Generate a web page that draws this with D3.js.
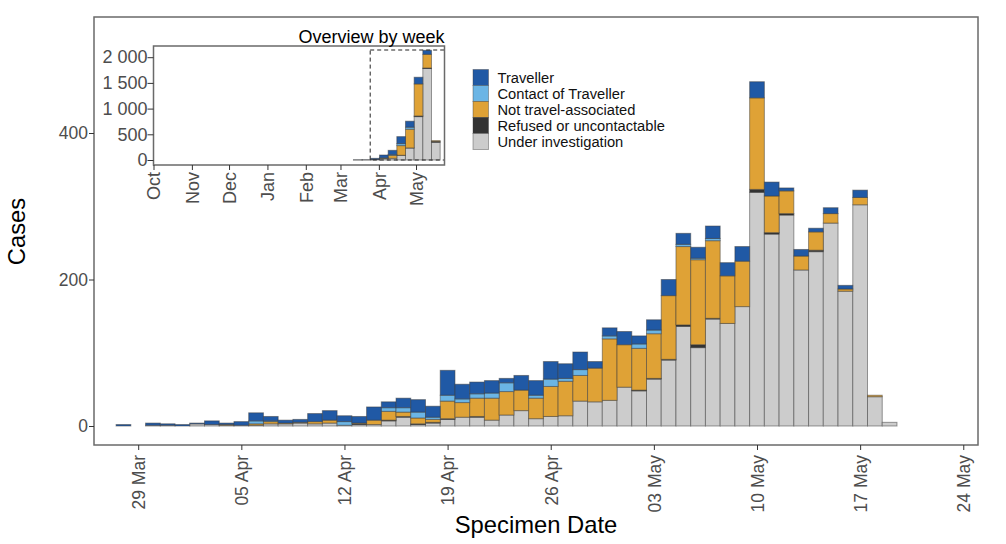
<!DOCTYPE html>
<html>
<head>
<meta charset="utf-8">
<script src="https://cdn.jsdelivr.net/npm/d3@7"></script>
<style>
  html, body { margin: 0; padding: 0; background: #fff; }
  svg { display: block; }
  text { font-family: "Liberation Sans", Arial, sans-serif; }
  .tick text { fill: #4d4d4d; }
  .tick line { stroke: #333; }
</style>
</head>
<body>
<svg id="chart" width="1006" height="544"></svg>
<script>
// daily counts, 28 Mar to 19 May
const traveller = [2,0,3,2,2,1,5,2,5,11,6,4,4,11,13,8,9,18,8,13,17,15,34,20,16,17,6,20,20,24,20,24,9,11,18,11,14,22,15,15,17,18,20,22,19,4,9,5,8,5,10,0,0];
const contact = [0,0,0,0,0,0,0,0,0,4,1,0,0,0,0,5,0,0,5,6,8,3,8,5,6,7,12,0,4,10,4,8,0,4,0,6,5,0,3,2,3,0,0,0,0,0,0,0,0,0,0,0,0];
const notTravel = [0,0,0,0,0,0,0,1,0,2,3,1,1,3,4,0,1,6,12,6,8,4,24,20,25,30,32,28,28,41,47,35,46,84,58,57,61,87,107,116,106,65,62,125,50,31,19,25,13,3,10,2,0];
const refused = [0,0,0,0,0,0,0,0,0,0,0,0,0,0,0,0,1,0,1,1,1,1,1,0,1,0,0,0,0,0,0,0,0,0,0,1,1,1,2,4,1,0,0,4,2,2,0,2,0,0,0,0,0];
const underInv = [0,0,1,1,0,3,2,1,1,1,3,3,4,3,4,1,2,2,7,12,2,4,9,12,12,8,15,21,10,13,14,34,33,35,53,48,64,90,136,107,146,140,163,319,262,288,213,238,277,184,302,40,5];

// weekly counts for the inset, weeks starting 15 Mar to 17 May
const weekStarts = ["2021-03-15","2021-03-22","2021-03-29","2021-04-05","2021-04-12","2021-04-19","2021-04-26","2021-05-03","2021-05-10","2021-05-17"];
const weekTraveller = [1,1,20,55,84,136,117,130,78,0];
const weekContact = [0,0,0,5,13,39,39,0,0,0];
const weekNotTravel = [0,0,0,10,58,188,364,623,266,12];
const weekRefused = [0,0,2,0,0,1,1,13,10,20];
const weekUnderInv = [2,3,10,27,33,91,234,844,1780,344];

const categories = ["Traveller", "Contact of Traveller", "Not travel-associated", "Refused or uncontactable", "Under investigation"];
const colours = ["#2059a5", "#6bb5e5", "#dfa236", "#333333", "#cccccc"];

const dayTicks = ["2021-03-29","2021-04-05","2021-04-12","2021-04-19","2021-04-26","2021-05-03","2021-05-10","2021-05-17","2021-05-24"];
const monthTicks = ["2020-10-01","2020-11-01","2020-12-01","2021-01-01","2021-02-01","2021-03-01","2021-04-01","2021-05-01"];
const caseTicks = [0, 200, 400];
const overviewTicks = [0, 500, 1000, 1500, 2000];

const parseDay = d3.utcParse("%Y-%m-%d");
const svg = d3.select("#chart");

// build rows for d3.stack from the parallel arrays
function makeRows(dates, arrays) {
    return dates.map(function (d, i) {
        let row = { date: d };
        categories.forEach(function (c, k) { row[c] = arrays[k][i]; });
        return row;
    });
}

function drawBars(g, rows, x, y, widthDays) {
    // stack from the bottom: under investigation first
    let stack = d3.stack().keys(categories.slice().reverse());
    let colour = d3.scaleOrdinal().domain(categories).range(colours);
    let halfSpan = widthDays * 12 * 3600 * 1000;

    g.selectAll("g.layer")
        .data(stack(rows))
        .enter().append("g")
        .attr("class", "layer")
        .attr("fill", d => colour(d.key))
        .selectAll("rect")
        .data(d => d.filter(p => p[1] > p[0]))
        .enter().append("rect")
        .attr("x", d => x(new Date(+d.data.date - halfSpan)))
        .attr("width", d => x(new Date(+d.data.date + halfSpan)) - x(new Date(+d.data.date - halfSpan)))
        .attr("y", d => y(d[1]))
        .attr("height", d => y(d[0]) - y(d[1]))
        .attr("stroke", "#3a3a3a")
        .attr("stroke-opacity", 0.5)
        .attr("stroke-width", 1);
}

/* main chart */
const panel = { left: 94, right: 978, top: 17, bottom: 445 };

const dayDates = d3.utcDay.range(parseDay("2021-03-28"), parseDay("2021-05-20"));
const x = d3.scaleUtc()
    .domain([parseDay("2021-03-26"), parseDay("2021-05-25")])
    .range([panel.left, panel.right]);
const y = d3.scaleLinear()
    .domain([(426 - panel.bottom) / 0.7325, (426 - panel.top) / 0.7325])
    .range([panel.bottom, panel.top]);

svg.append("rect")
    .attr("x", panel.left).attr("y", panel.top)
    .attr("width", panel.right - panel.left).attr("height", panel.bottom - panel.top)
    .attr("fill", "#fff");

drawBars(svg.append("g"), makeRows(dayDates, [traveller, contact, notTravel, refused, underInv]), x, y, 1);

svg.append("rect")
    .attr("x", panel.left).attr("y", panel.top)
    .attr("width", panel.right - panel.left).attr("height", panel.bottom - panel.top)
    .attr("fill", "none").attr("stroke", "#6a6a6a").attr("stroke-width", 1.5);

let xAxis = svg.append("g")
    .attr("transform", "translate(0," + panel.bottom + ")")
    .call(d3.axisBottom(x).tickValues(dayTicks.map(parseDay)).tickFormat(d3.utcFormat("%d %b")).tickSize(5));
xAxis.select(".domain").remove();
xAxis.selectAll("text")
    .style("font-size", "17.5px")
    .attr("text-anchor", "end")
    .attr("transform", "rotate(-90)")
    .attr("x", -10).attr("y", 0).attr("dy", "0.36em");

let yAxis = svg.append("g")
    .attr("transform", "translate(" + panel.left + ",0)")
    .call(d3.axisLeft(y).tickValues(caseTicks).tickSize(5).tickPadding(1));
yAxis.select(".domain").remove();
yAxis.selectAll("text").style("font-size", "17.5px");

svg.append("text").attr("x", 536).attr("y", 532.5)
    .attr("text-anchor", "middle").style("font-size", "23.8px").text("Specimen Date");
svg.append("text").attr("transform", "translate(25,231.5) rotate(-90)")
    .attr("text-anchor", "middle").style("font-size", "23.8px").text("Cases");

/* inset overview */
const inset = { left: 153.5, right: 444.5, top: 46, bottom: 165 };

const xWeek = d3.scaleUtc()
    .domain([parseDay("2020-10-01"), parseDay("2021-05-24")])
    .range([inset.left, inset.right]);
const yWeek = d3.scaleLinear()
    .domain([(160 - inset.bottom) / 0.0514, (160 - inset.top) / 0.0514])
    .range([inset.bottom, inset.top]);

svg.append("rect")
    .attr("x", inset.left).attr("y", inset.top)
    .attr("width", inset.right - inset.left).attr("height", inset.bottom - inset.top)
    .attr("fill", "#fff");

drawBars(svg.append("g"), makeRows(weekStarts.map(parseDay), [weekTraveller, weekContact, weekNotTravel, weekRefused, weekUnderInv]), xWeek, yWeek, 7);

// dashed box marks the period shown in the main chart
svg.append("rect")
    .attr("x", xWeek(parseDay("2021-03-25"))).attr("y", yWeek(2140))
    .attr("width", inset.right - xWeek(parseDay("2021-03-25"))).attr("height", yWeek(0) - yWeek(2140))
    .attr("fill", "none").attr("stroke", "#222").attr("stroke-width", 1).attr("stroke-dasharray", "4,3");

svg.append("rect")
    .attr("x", inset.left).attr("y", inset.top)
    .attr("width", inset.right - inset.left).attr("height", inset.bottom - inset.top)
    .attr("fill", "none").attr("stroke", "#6a6a6a").attr("stroke-width", 1.5);

let xWeekAxis = svg.append("g")
    .attr("transform", "translate(0," + inset.bottom + ")")
    .call(d3.axisBottom(xWeek).tickValues(monthTicks.map(parseDay)).tickFormat(d3.utcFormat("%b")).tickSize(5));
xWeekAxis.select(".domain").remove();
xWeekAxis.selectAll("text")
    .style("font-size", "18px")
    .attr("text-anchor", "end")
    .attr("transform", "rotate(-90)")
    .attr("x", -7).attr("y", 0).attr("dy", "0.36em");

let yWeekAxis = svg.append("g")
    .attr("transform", "translate(" + inset.left + ",0)")
    .call(d3.axisLeft(yWeek).tickValues(overviewTicks).tickSize(6).tickPadding(0)
        .tickFormat(d => d3.format(",")(d).replace(",", " ")));
yWeekAxis.select(".domain").remove();
yWeekAxis.selectAll("text").style("font-size", "18px");

svg.append("text").attr("x", 444.5).attr("y", 43)
    .attr("text-anchor", "end").style("font-size", "18px").text("Overview by week");

/* legend */
let legend = svg.append("g").selectAll("g")
    .data(categories)
    .enter().append("g")
    .attr("transform", (d, i) => "translate(473," + (69.5 + i * 16) + ")");
legend.append("rect")
    .attr("width", 15.5).attr("height", 16)
    .attr("fill", (d, i) => colours[i])
    .attr("stroke", "#3a3a3a").attr("stroke-opacity", 0.4);
legend.append("text")
    .attr("x", 24.5).attr("y", 8).attr("dy", "0.36em")
    .style("font-size", "14.7px").attr("fill", "#111")
    .text(d => d);
</script>
</body>
</html>
